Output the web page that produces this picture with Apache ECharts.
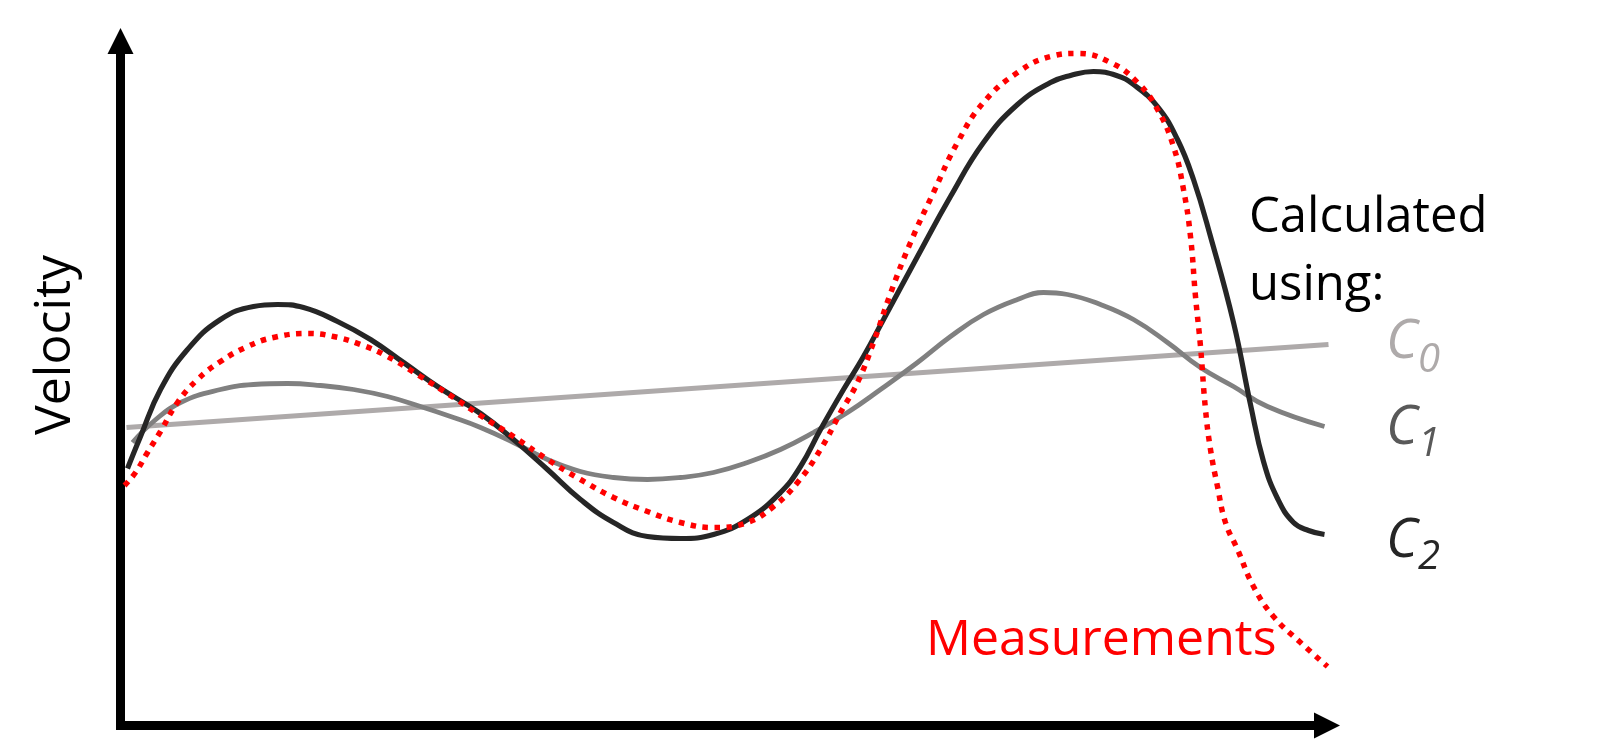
<!DOCTYPE html>
<html>
<head>
    <meta charset="UTF-8">
    <title>Velocity: measured vs calculated</title>
    <script src="https://cdn.jsdelivr.net/npm/echarts@6/dist/echarts.min.js"></script>
    <style>
        body { margin: 0; background: #fff; }
    </style>
</head>
<body>
    <div id="chart" style="width:1622px; height:753px;"></div>
    <script>
        // values, [time, velocity] in arbitrary units
        var c0Points = [[6, 298], [1208, 381]];

        var c1Points = [
            [12, 283], [33, 304], [60, 323], [100, 336], [133, 341], [167, 342],
            [200, 340], [233, 336], [267, 329], [300, 319], [333, 308], [360, 298],
            [393, 283], [427, 266], [460, 254], [493, 248], [527, 246], [560, 248],
            [593, 253], [627, 263], [660, 276], [693, 293], [727, 313], [760, 336],
            [797, 363], [830, 389], [863, 411], [897, 426], [923, 433], [947, 431],
            [980, 421], [1013, 406], [1047, 383], [1080, 358], [1113, 339],
            [1147, 319], [1204, 299]
        ];

        var c2Points = [
            [7, 257], [20, 289], [40, 336], [67, 376], [100, 406], [133, 419],
            [157, 421], [183, 418], [217, 404], [250, 386], [283, 363], [317, 339],
            [360, 312], [393, 286], [427, 256], [460, 226], [493, 203], [527, 189],
            [560, 187], [593, 191], [627, 206], [660, 233], [680, 259], [700, 296],
            [723, 336], [743, 369], [763, 406], [797, 469], [830, 529], [863, 583],
            [897, 621], [930, 643], [950, 650], [973, 654], [996, 650], [1013, 641],
            [1037, 619], [1057, 586], [1073, 546], [1090, 489], [1113, 403],
            [1130, 321], [1143, 264], [1157, 227], [1173, 203], [1188, 195],
            [1204, 191]
        ];

        var measuredPoints = [
            [4, 240], [15, 253], [27, 273], [40, 294], [57, 323], [77, 346],
            [100, 364], [127, 379], [153, 388], [187, 392], [213, 389], [240, 381],
            [267, 369], [300, 349], [333, 328], [360, 310], [393, 289], [427, 266],
            [460, 246], [493, 228], [527, 214], [560, 203], [593, 198], [627, 203],
            [653, 219], [677, 243], [700, 276], [720, 313], [737, 343], [753, 383],
            [770, 432], [790, 483], [813, 533], [837, 583], [863, 623], [897, 653],
            [930, 669], [957, 672], [990, 663], [1017, 643], [1037, 616], [1053, 579],
            [1063, 536], [1070, 489], [1075, 429], [1080, 379], [1085, 316],
            [1090, 276], [1097, 239], [1105, 203], [1117, 176], [1133, 139],
            [1153, 109], [1180, 83], [1207, 59]
        ];

        var chart = echarts.init(document.getElementById('chart'), null, {renderer: 'canvas'});

        var font = '"Open Sans", "Noto Sans", sans-serif';

        // axis line with a plain triangle head; offset moves the head along the axis
        function axisStyle(maxVal, headOffset, cap) {
            return {
                type: 'value',
                min: 0,
                max: maxVal,
                axisLine: {
                    show: true,
                    symbol: ['none', 'triangle'],
                    symbolSize: [26, 26],
                    symbolOffset: [0, headOffset],
                    lineStyle: {color: '#000', width: 9, cap: cap}
                },
                axisTick: {show: false},
                axisLabel: {show: false},
                splitLine: {show: false}
            };
        }

        function curve(name, points, color, width, dash) {
            return {
                name: name,
                type: 'line',
                data: points,
                smooth: 0.45,
                showSymbol: false,
                clip: false,
                silent: true,
                lineStyle: {color: color, width: width, type: dash || 'solid', cap: 'butt'}
            };
        }

        function label(text, x, y, size, color, italic) {
            return {
                type: 'text',
                x: x,
                y: y,
                silent: true,
                style: {
                    text: text,
                    fontFamily: font,
                    fontSize: size,
                    fontStyle: italic ? 'italic' : 'normal',
                    fill: color,
                    align: 'left',
                    verticalAlign: 'middle'
                }
            };
        }

        var velocityLabel = {
            type: 'text',
            x: 56,
            y: 345,
            rotation: Math.PI / 2,
            silent: true,
            style: {
                text: 'Velocity',
                fontFamily: font,
                fontSize: 50,
                fill: '#000',
                align: 'center',
                verticalAlign: 'middle'
            }
        };

        chart.setOption({
            animation: false,
            backgroundColor: '#fff',
            grid: {left: 120.5, top: 45.5, width: 1210, height: 680},
            xAxis: axisStyle(1210, -3.5, 'butt'),
            yAxis: axisStyle(680, 4.5, 'square'),
            series: [
                curve('C0', c0Points, '#aeaaaa', 4.8),
                curve('C1', c1Points, '#808080', 4.8),
                curve('C2', c2Points, '#262626', 5.2),
                curve('Measurements', measuredPoints, '#ff0000', 5.5, [5.5, 6.5])
            ],
            graphic: [
                velocityLabel,
                label('Calculated', 1249, 218, 49, '#000'),
                label('using:', 1249, 286, 49, '#000'),
                label('C', 1386, 343, 54, '#aeaaaa', true),
                label('0', 1418, 361, 40, '#aeaaaa', true),
                label('C', 1386, 429, 54, '#595959', true),
                label('1', 1418, 445, 40, '#595959', true),
                label('C', 1386, 542, 54, '#262626', true),
                label('2', 1418, 558, 40, '#262626', true),
                label('Measurements', 926, 641, 50, '#ff0000')
            ]
        });
    </script>
</body>
</html>
